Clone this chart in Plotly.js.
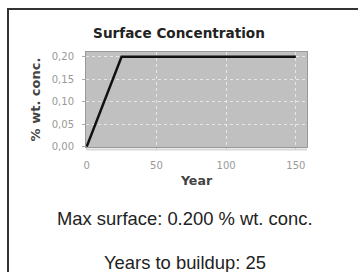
<!DOCTYPE html>
<html><head><meta charset="utf-8">
<script src="https://cdn.plot.ly/plotly-3.0.1.min.js"></script>
<style>
html,body{margin:0;padding:0;background:#fff;}
#wrap{position:relative;width:358px;height:272px;overflow:hidden;}
#frame{position:absolute;left:7px;top:8px;right:-5px;bottom:-5px;border-left:2px solid #333;border-top:2px solid #333;pointer-events:none;z-index:5;}
#chart{position:absolute;left:0;top:0;width:358px;height:272px;}
</style></head>
<body><div id="wrap"><div id="chart"></div><div id="frame"></div></div>
<script>
const years = [0, 25, 150];
const concentration = [0, 0.2, 0.2];
const maxSurfaceText = "Max surface: 0.200 % wt. conc.";
const buildupText = "Years to buildup: 25";

const trace = {x: years, y: concentration, mode: 'lines', line: {color: '#111', width: 2.5}, hoverinfo: 'skip'};
const layout = {
  width: 358, height: 272,
  margin: {l: 86, r: 51, t: 52, b: 125},
  paper_bgcolor: '#fff', plot_bgcolor: '#c0c0c0',
  showlegend: false,
  title: {text: 'Surface Concentration', font: {family: 'DejaVu Sans', size: 13.6, color: '#222', weight: 'bold'}, x: 0.5, xanchor: 'center', y: 1 - 33/272, yanchor: 'middle'},
  xaxis: {range: [-0.5, 158], tickvals: [0, 50, 100, 150], ticktext: ['0','50','100','150'],
    showgrid: true, gridcolor: 'rgba(255,255,255,0.6)', griddash: 'dot', gridwidth: 1,
    zeroline: false, showline: true, linecolor: '#999', linewidth: 1, mirror: true,
    ticks: 'outside', ticklen: 2, tickcolor: '#bbb', ticklabelstandoff: 7,
    tickfont: {family: 'DejaVu Sans', size: 10, color: '#999'},
    title: {text: 'Year', font: {family: 'DejaVu Sans', size: 12.6, color: '#444', weight: 'bold'}, standoff: 6}},
  yaxis: {range: [-0.001, 0.2105], tickvals: [0, 0.05, 0.1, 0.15, 0.2], ticktext: ['0,00','0,05','0,10','0,15','0,20'],
    showgrid: true, gridcolor: 'rgba(255,255,255,0.6)', griddash: 'dot', gridwidth: 1,
    zeroline: false, showline: true, linecolor: '#999', linewidth: 1, mirror: true,
    ticks: 'outside', ticklen: 3, tickcolor: '#aaa', ticklabelstandoff: 6,
    tickfont: {family: 'DejaVu Sans', size: 10, color: '#999'},
    title: {text: '% wt. conc.', font: {family: 'DejaVu Sans', size: 13, color: '#444', weight: 'bold'}, standoff: 8}},
  shapes: [{type: 'line', xref: 'paper', yref: 'paper', x0: 0, x1: 1, y0: -0.025, y1: -0.025, line: {color: '#d8d8d8', width: 2}}],
  annotations: [
    {text: maxSurfaceText, xref: 'paper', yref: 'paper', x: 0.448, y: (147-218)/95, xanchor: 'center', yanchor: 'middle', showarrow: false, font: {family: 'Liberation Sans', size: 18.4, color: '#222'}},
    {text: buildupText, xref: 'paper', yref: 'paper', x: 0.448, y: (147-262)/95, xanchor: 'center', yanchor: 'middle', showarrow: false, font: {family: 'Liberation Sans', size: 18.4, color: '#222'}}
  ]
};
Plotly.newPlot('chart', [trace], layout, {displayModeBar: false, staticPlot: true});
</script></body></html>
